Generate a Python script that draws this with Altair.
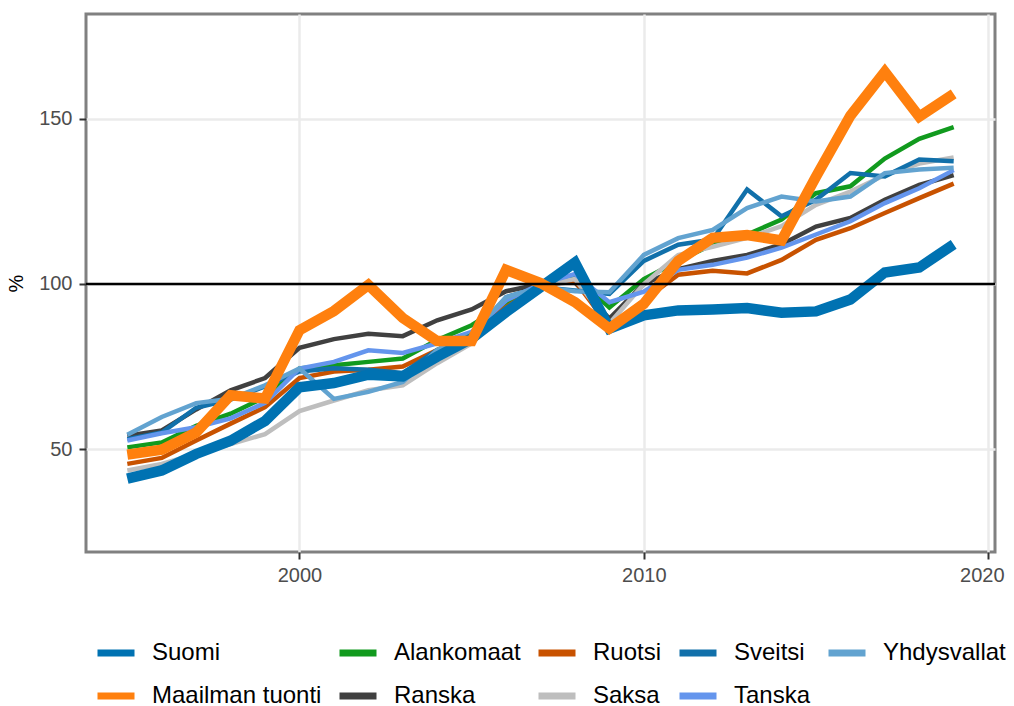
import altair as alt
import pandas as pd

years = list(range(1995, 2020))

suomi = [41, 43.5, 48.5, 52.5, 58.5, 68.7, 70, 72.5, 72, 78, 83.5, 91.5, 99, 106.5, 86.5,
         90.5, 92, 92.3, 92.7, 91.3, 91.7, 95.3, 103.5, 105, 112]
maailman_tuonti = [48.3, 49.8, 55, 66.3, 65.3, 86, 91.8, 99.7, 89.7, 82.7, 82.7, 104.3, 100.3, 94.5, 86.5,
                   94, 107, 114, 114.8, 113.2, 132.5, 151, 164.3, 150.7, 157.6]
alankomaat = [50.5, 52, 57, 60.7, 65.7, 74.4, 75.4, 76.4, 77.4, 83, 87.5, 94, 100, 102.5, 92.9,
              101.5, 107, 112, 115, 119.5, 127.5, 129.6, 138, 144, 147.5]
ranska = [54, 55.6, 62, 67.8, 71.5, 80.7, 83.3, 84.9, 84.2, 89, 92.3, 97.8, 100, 100.5, 89.5,
          100, 104.5, 107, 108.8, 112, 117.4, 120, 125.5, 130, 133]
ruotsi = [45.5, 47.3, 52.6, 57.7, 62.7, 71.5, 73.5, 74, 75, 80, 85, 93, 99.5, 101, 87,
          95, 102.8, 104, 103.2, 107.3, 113.4, 116.9, 121.5, 126, 130.4]
saksa = [43.5, 45.5, 48.5, 51.5, 54.5, 61.5, 64.7, 67.8, 69.3, 76, 82, 92, 99.5, 101.5, 88,
         100, 108.8, 111.3, 114, 117.5, 124, 128, 133, 136.5, 138.3]
sveitsi = [53, 55, 62.5, 65, 69, 73.5, 74.5, 74, 73, 80, 84, 96, 99, 98, 97,
           107, 111.9, 113.5, 128.6, 120.5, 125.5, 133.6, 132.6, 137.7, 137.2]
tanska = [52.6, 54.8, 56.6, 59.3, 64, 74.4, 76.4, 79.9, 79.1, 82, 85.5, 95, 100, 103, 94.5,
          97.7, 104.3, 105.8, 108, 111, 115, 119, 124.5, 129, 134.5]
yhdysvallat = [54.3, 59.7, 63.9, 65.2, 69.3, 74.4, 65.2, 67.3, 70.3, 80, 85, 96, 99, 97.8, 97.5,
               108.8, 113.9, 116.4, 123, 126.5, 125, 126.5, 133.6, 134.7, 135.2]

series = {
    "Suomi": suomi,
    "Maailman tuonti": maailman_tuonti,
    "Alankomaat": alankomaat,
    "Ranska": ranska,
    "Ruotsi": ruotsi,
    "Saksa": saksa,
    "Sveitsi": sveitsi,
    "Tanska": tanska,
    "Yhdysvallat": yhdysvallat,
}

legend_order = ["Suomi", "Maailman tuonti", "Alankomaat", "Ranska", "Ruotsi",
                "Saksa", "Sveitsi", "Tanska", "Yhdysvallat"]
legend_colors = ["#0072B2", "#FF800E", "#119A1E", "#404040", "#C85200",
                 "#BEBEBE", "#1170AA", "#6495ED", "#62A3D0"]

thin_series = ["Alankomaat", "Ranska", "Ruotsi", "Saksa", "Sveitsi", "Tanska", "Yhdysvallat"]

rows = []
for name, vals in series.items():
    for yr, v in zip(years, vals):
        rows.append({"year": yr, "value": v, "series": name})
df = pd.DataFrame(rows)

font = "Liberation Sans"

x = alt.X("year:Q",
          scale=alt.Scale(domain=[1993.8, 2020.2], nice=False, zero=False),
          axis=alt.Axis(values=[2000, 2010, 2020], format="d", title=None, labelPadding=6,
                        labelFlush=10, labelFlushOffset=16))
y = alt.Y("value:Q",
          scale=alt.Scale(domain=[18.8, 181.8], nice=False, zero=False),
          axis=alt.Axis(values=[50, 100, 150], title="%", labelPadding=7))
color = alt.Color("series:N",
                  scale=alt.Scale(domain=legend_order, range=legend_colors),
                  legend=alt.Legend(title=None, orient="none", legendX=8, legendY=617,
                                    columns=5, symbolType="stroke", symbolSize=1369,
                                    symbolStrokeWidth=7, labelFontSize=24, labelFont=font,
                                    labelColor="black", labelOffset=14, columnPadding=3,
                                    rowPadding=7, symbolOpacity=1, labelLimit=400))

base = alt.Chart(df)

thin = base.transform_filter(
    alt.FieldOneOfPredicate(field="series", oneOf=thin_series)
).mark_line(strokeWidth=4.5, strokeJoin="miter").encode(x=x, y=y, color=color)

suomi_line = base.transform_filter(
    alt.datum.series == "Suomi"
).mark_line(strokeWidth=10.5, strokeJoin="miter").encode(x=x, y=y, color=color)

world_line = base.transform_filter(
    alt.datum.series == "Maailman tuonti"
).mark_line(strokeWidth=10.5, strokeJoin="miter").encode(x=x, y=y, color=color)

rule = alt.Chart(pd.DataFrame({"ref": [100]})).mark_rule(
    color="black", strokeWidth=2.5
).encode(y="ref:Q")

chart = alt.layer(thin, suomi_line, world_line, rule).properties(
    width=909,
    height=538,
    autosize=alt.AutoSizeParams(type="none"),
    padding={"left": 78, "top": 6, "right": 11, "bottom": 158},
).configure_view(
    stroke="#808080", strokeWidth=3
).configure_axis(
    domain=False,
    grid=True,
    gridColor="#EBEBEB",
    gridWidth=2.5,
    tickColor="#333333",
    tickWidth=2,
    tickSize=7,
    labelFont=font,
    labelFontSize=20,
    labelColor="#4D4D4D",
    titleFont=font,
    titleFontSize=20,
    titleFontWeight="normal",
    titleColor="black",
    titlePadding=12,
)

chart.save("out.html", embed_options={"renderer": "svg", "actions": False})
